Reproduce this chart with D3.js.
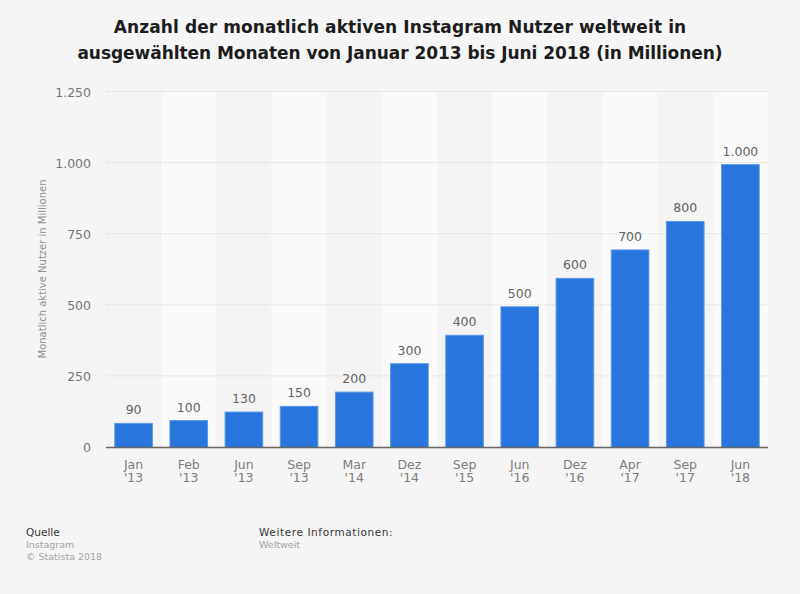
<!DOCTYPE html>
<html><head><meta charset="utf-8">
<script src="https://cdn.jsdelivr.net/npm/d3@7"></script>
<style>html,body{margin:0;padding:0;background:#f5f5f5}svg{display:block}text{font-family:"DejaVu Sans",sans-serif}</style>
</head><body><svg id="c" width="800" height="594"></svg>
<script>
const months=["Jan","Feb","Jun","Sep","Mar","Dez","Sep","Jun","Dez","Apr","Sep","Jun"];
const years=["'13","'13","'13","'13","'14","'14","'15","'16","'16","'17","'17","'18"];
const users=[90,100,130,150,200,300,400,500,600,700,800,1000];
const yTicks=[0,250,500,750,1000,1250];
const titleLines=["Anzahl der monatlich aktiven Instagram Nutzer weltweit in","ausgewählten Monaten von Januar 2013 bis Juni 2018 (in Millionen)"];
const ids=users.map((_,i)=>i);
const fmt=v=>d3.format(",")(v).replace(/,/g,".");
const svg=d3.select("#c");
const x=d3.scaleBand().domain(ids).range([106,768]).paddingInner(0.3).paddingOuter(0.15);
const xStep=d3.scaleBand().domain(ids).range([106,768]);
const y=d3.scaleLinear().domain([0,1250]).range([447.5,92]);

svg.append("g").selectAll("rect").data(ids).join("rect")
 .attr("x",d=>xStep(d)).attr("width",xStep.bandwidth()).attr("y",y(1250)).attr("height",y(0)-y(1250))
 .attr("fill",d=>d%2?"#fafafa":"#f4f4f4");

svg.append("g").selectAll("line").data(yTicks.filter(d=>d>0)).join("line")
 .attr("x1",106).attr("x2",768).attr("y1",d=>y(d)-.5).attr("y2",d=>y(d)-.5)
 .attr("stroke","#d6d6d6").attr("stroke-dasharray","1,1");

const yAxis=svg.append("g").attr("transform","translate(91,0)").call(d3.axisLeft(y).tickValues(yTicks).tickFormat(fmt).tickSize(0).tickPadding(0));
yAxis.select(".domain").remove();
yAxis.selectAll("text").attr("font-size",12.5).attr("fill","#757575").attr("font-family",'"DejaVu Sans"');

svg.append("g").selectAll("rect").data(users).join("rect")
 .attr("x",(d,i)=>x(i)+.5).attr("width",x.bandwidth()-1).attr("y",d=>y(d)+1.5).attr("height",d=>y(0)-y(d)-1.5)
 .attr("fill","#2875de").attr("stroke","#5a97ea").attr("stroke-width",1);

svg.append("line").attr("x1",106).attr("x2",768).attr("y1",y(0)).attr("y2",y(0)).attr("stroke","#666").attr("stroke-width",1.6);

svg.append("g").selectAll("text").data(users).join("text")
 .attr("x",(d,i)=>x(i)+x.bandwidth()/2).attr("y",d=>y(d)-7.5).attr("text-anchor","middle")
 .attr("font-size",12.5).attr("fill","#636363").text(fmt);

const lab=svg.append("g").selectAll("text").data(ids).join("text")
 .attr("text-anchor","middle").attr("font-size",12.5).attr("fill","#7c7c7c");
lab.append("tspan").attr("x",d=>x(d)+x.bandwidth()/2).attr("y",469).text(d=>months[d]);
lab.append("tspan").attr("x",d=>x(d)+x.bandwidth()/2).attr("y",481.5).text(d=>years[d]);

svg.append("text").attr("transform","translate(46,269) rotate(-90)").attr("text-anchor","middle")
 .attr("font-size",10).attr("fill","#8f8f8f").text("Monatlich aktive Nutzer in Millionen");

svg.append("g").selectAll("text").data(titleLines).join("text")
 .attr("x",400).attr("y",(d,i)=>33+i*26).attr("text-anchor","middle")
 .attr("font-size",17).attr("font-weight","bold").attr("fill","#1c1c1c")
 .style("letter-spacing",(d,i)=>i?"-0.05px":"0.1px").text(d=>d);

const foot=(xp,yp,s,col,extra)=>svg.append("text").attr("x",xp).attr("y",yp).attr("font-size",s).attr("fill",col).style("letter-spacing",extra||"0");
foot(26,536,10.5,"#333").text("Quelle");
foot(26,548,9.5,"#a3a3a3").text("Instagram");
foot(26,560,9.5,"#a3a3a3").text("© Statista 2018");
foot(259,536,10.5,"#333","0.6px").text("Weitere Informationen:");
foot(259,548,9.5,"#a3a3a3").text("Weltweit");
</script></body></html>
